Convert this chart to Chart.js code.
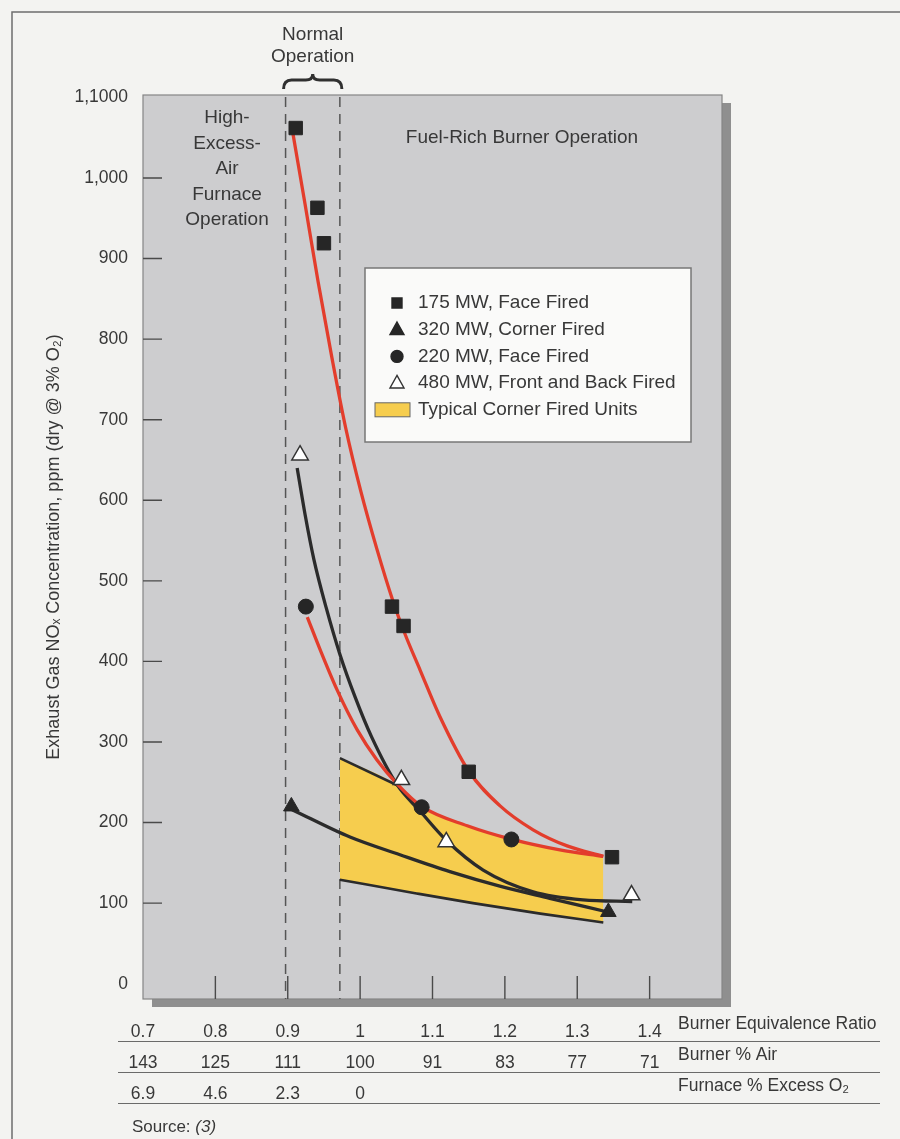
<!DOCTYPE html>
<html>
<head>
<meta charset="utf-8">
<script src="https://cdn.jsdelivr.net/npm/chart.js@4.4.1/dist/chart.umd.min.js"></script>
<style>
  html, body { margin: 0; padding: 0; background: #f3f3f1; }
  #wrap { width: 900px; height: 1139px; }
</style>
</head>
<body>
<div id="wrap"><canvas id="noxChart" width="900" height="1139"></canvas></div>
<script>
// x axis rows (burner equivalence ratio is the real scale)
const ratioTicks = [0.7, 0.8, 0.9, 1.0, 1.1, 1.2, 1.3, 1.4];
const airLabels = ['143', '125', '111', '100', '91', '83', '77', '71'];
const o2Labels = ['6.9', '4.6', '2.3', '0', '', '', '', ''];
const rowTitles = ['Burner Equivalence Ratio', 'Burner % Air', 'Furnace % Excess O\u2082'];

const yTicks = [0, 100, 200, 300, 400, 500, 600, 700, 800, 900, 1000, 1100];
const yTickLabels = ['0', '100', '200', '300', '400', '500', '600', '700', '800', '900', '1,000', '1,1000'];

// normal operation window
const normalLow = 0.897;
const normalHigh = 0.972;

// measured points
const mw175X = [0.911, 0.941, 0.950, 1.044, 1.060, 1.150, 1.348];
const mw175Y = [1062, 963, 919, 468, 444, 263, 157];
const mw320X = [0.905, 1.343];
const mw320Y = [220, 89];
const mw220X = [0.925, 1.085, 1.209];
const mw220Y = [468, 219, 179];
const mw480X = [0.917, 1.057, 1.119, 1.375];
const mw480Y = [656, 253, 176, 110];

// trend curves
const fit175X = [0.907, 0.924, 0.942, 0.961, 0.980, 1.001, 1.023, 1.045, 1.062, 1.083, 1.110, 1.150, 1.193, 1.239, 1.286, 1.336];
const fit175Y = [1056, 967, 871, 777, 690, 611, 540, 476, 434, 389, 332, 264, 221, 191, 171, 158];
const fit220X = [0.927, 0.945, 0.968, 0.996, 1.023, 1.051, 1.085, 1.148, 1.210, 1.276, 1.336];
const fit220Y = [455, 414, 365, 315, 278, 248, 220, 196, 179, 166, 158];
const fit480X = [0.913, 0.924, 0.936, 0.953, 0.972, 0.993, 1.016, 1.051, 1.083, 1.119, 1.170, 1.239, 1.308, 1.376];
const fit480Y = [640, 582, 527, 467, 409, 356, 306, 247, 214, 178, 141, 114, 104, 102];
const fit320X = [0.906, 0.986, 1.055, 1.124, 1.193, 1.262, 1.342];
const fit320Y = [216, 182, 160, 139, 121, 106, 89];

// typical corner fired band
const bandTopX = [0.972, 1.052, 1.085, 1.148, 1.210, 1.276, 1.336];
const bandTopY = [280, 246, 220, 196, 179, 166, 158];
const bandLowX = [0.972, 1.078, 1.156, 1.249, 1.336];
const bandLowY = [129, 112, 100, 87, 76];
const bandEdgeX = [0.972, 1.052];
const bandEdgeY = [280, 246];

const FONT = "'Liberation Sans', Arial, sans-serif";
const INK = '#383838';
const RED = '#e33d2c';
const DARK = '#2b2b2b';
const YELLOW = '#f6cd4e';

const pts = (xs, ys) => xs.map((x, i) => ({ x: x, y: ys[i] }));

function curve(data, color) {
    return {
        data: data,
        borderColor: color,
        borderWidth: 3.3,
        pointRadius: 0,
        cubicInterpolationMode: 'monotone',
        fill: false
    };
}

// background, frame and plot panel
const panelPlugin = {
    id: 'panel',
    beforeDraw(chart) {
        const ctx = chart.ctx;
        const a = chart.chartArea;
        ctx.save();
        ctx.fillStyle = '#f3f3f1';
        ctx.fillRect(0, 0, chart.width, chart.height);
        ctx.strokeStyle = '#6e6e6e';
        ctx.lineWidth = 1.5;
        ctx.strokeRect(12, 12, chart.width, chart.height);
        ctx.fillStyle = '#8f8f8f';
        ctx.fillRect(a.left + 9, a.top + 8, a.right - a.left, a.bottom - a.top);
        ctx.fillStyle = '#cdcdcf';
        ctx.fillRect(a.left, a.top, a.right - a.left, a.bottom - a.top);
        ctx.strokeStyle = '#858585';
        ctx.lineWidth = 1.2;
        ctx.strokeRect(a.left, a.top, a.right - a.left, a.bottom - a.top);
        ctx.restore();
    },
    beforeDatasetsDraw(chart) {
        const ctx = chart.ctx;
        const a = chart.chartArea;
        const xs = chart.scales.x;
        const ys = chart.scales.y;
        ctx.save();
        // inner tick marks
        ctx.strokeStyle = '#4a4a4a';
        ctx.lineWidth = 1.4;
        ctx.beginPath();
        ratioTicks.slice(1).forEach(v => {
            const px = xs.getPixelForValue(v);
            ctx.moveTo(px, a.bottom);
            ctx.lineTo(px, a.bottom - 23);
        });
        yTicks.slice(1, -1).forEach(v => {
            const py = ys.getPixelForValue(v);
            ctx.moveTo(a.left, py);
            ctx.lineTo(a.left + 19, py);
        });
        ctx.stroke();
        // dashed lines for normal operation
        ctx.setLineDash([10, 7]);
        ctx.strokeStyle = '#555';
        ctx.lineWidth = 1.5;
        [normalLow, normalHigh].forEach(v => {
            const px = xs.getPixelForValue(v);
            ctx.beginPath();
            ctx.moveTo(px, a.top + 2);
            ctx.lineTo(px, a.bottom);
            ctx.stroke();
        });
        ctx.restore();
    }
};

function drawMarker(ctx, style, x, y, r, fill, stroke) {
    ctx.beginPath();
    if (style === 'rect') {
        ctx.rect(x - r, y - r, 2 * r, 2 * r);
    } else if (style === 'triangle') {
        ctx.moveTo(x, y - r * 1.1);
        ctx.lineTo(x + r, y + r * 0.7);
        ctx.lineTo(x - r, y + r * 0.7);
        ctx.closePath();
    } else {
        ctx.arc(x, y, r, 0, Math.PI * 2);
    }
    ctx.fillStyle = fill;
    ctx.fill();
    ctx.strokeStyle = stroke;
    ctx.lineWidth = 1.4;
    ctx.stroke();
}

// legend, labels and the table under the axis
const notesPlugin = {
    id: 'notes',
    afterDraw(chart) {
        const ctx = chart.ctx;
        const a = chart.chartArea;
        const xs = chart.scales.x;
        const ds = chart.data.datasets;
        ctx.save();
        ctx.fillStyle = INK;
        ctx.textBaseline = 'middle';

        // top annotations
        ctx.font = '19px ' + FONT;
        ctx.textAlign = 'center';
        const pLow = xs.getPixelForValue(normalLow);
        const pHigh = xs.getPixelForValue(normalHigh);
        const mid = (pLow + pHigh) / 2;
        ctx.fillText('Normal', mid, 35);
        ctx.fillText('Operation', mid, 57);
        ctx.strokeStyle = '#303030';
        ctx.lineWidth = 3;
        ctx.beginPath();
        const by = 74, bx1 = pLow - 2, bx2 = pHigh + 2;
        ctx.moveTo(bx1, by + 15);
        ctx.quadraticCurveTo(bx1, by + 6, bx1 + 8, by + 6);
        ctx.lineTo(mid - 7, by + 6);
        ctx.quadraticCurveTo(mid, by + 6, mid, by);
        ctx.quadraticCurveTo(mid, by + 6, mid + 7, by + 6);
        ctx.lineTo(bx2 - 8, by + 6);
        ctx.quadraticCurveTo(bx2, by + 6, bx2, by + 15);
        ctx.stroke();

        ['High-', 'Excess-', 'Air', 'Furnace', 'Operation'].forEach((t, i) => {
            ctx.fillText(t, 227, 118 + i * 25.5);
        });
        ctx.fillText('Fuel-Rich Burner Operation', 522, 138);

        // legend box
        ctx.fillStyle = '#fafaf9';
        ctx.fillRect(365, 268, 326, 174);
        ctx.strokeStyle = '#777';
        ctx.lineWidth = 1.5;
        ctx.strokeRect(365, 268, 326, 174);
        const items = [0, 1, 2, 3, 9];
        items.forEach((di, k) => {
            const d = ds[di];
            const y = 303 + k * 26.7;
            if (d.pointStyle) {
                const r = d.pointStyle === 'rect' ? 5 : (d.pointStyle === 'triangle' ? 7 : 6);
                drawMarker(ctx, d.pointStyle, 397, y, r, d.backgroundColor, d.borderColor);
            } else {
                ctx.fillStyle = YELLOW;
                ctx.fillRect(375, y - 7, 35, 14);
                ctx.strokeStyle = '#666';
                ctx.lineWidth = 1;
                ctx.strokeRect(375, y - 7, 35, 14);
            }
            ctx.fillStyle = INK;
            ctx.textAlign = 'left';
            ctx.font = '19px ' + FONT;
            ctx.fillText(d.label, 418, y);
        });

        // table row titles and rules
        ctx.font = '17.5px ' + FONT;
        ctx.textAlign = 'left';
        ctx.fillStyle = INK;
        const row0 = a.bottom + 10 + 15.5;
        rowTitles.forEach((t, i) => ctx.fillText(t, 678, row0 + i * 31));
        ctx.strokeStyle = '#6a6a6a';
        ctx.lineWidth = 1.2;
        ctx.beginPath();
        [0, 1, 2].forEach(i => {
            const y = Math.round(row0 + i * 31 + 16) + 0.5;
            ctx.moveTo(118, y);
            ctx.lineTo(880, y);
        });
        ctx.stroke();

        ctx.font = '17px ' + FONT;
        ctx.fillText('Source: ', 132, 1127);
        const w = ctx.measureText('Source: ').width;
        ctx.font = 'italic 17px ' + FONT;
        ctx.fillText('(3)', 132 + w, 1127);
        ctx.restore();
    }
};

Chart.defaults.font.family = FONT;
Chart.defaults.color = INK;

new Chart(document.getElementById('noxChart'), {
    type: 'line',
    data: {
        datasets: [
            {
                label: '175 MW, Face Fired',
                data: pts(mw175X, mw175Y),
                showLine: false,
                pointStyle: 'rect',
                pointRadius: 9.5,
                backgroundColor: '#262626',
                borderColor: '#262626',
                borderWidth: 1
            },
            {
                label: '320 MW, Corner Fired',
                data: pts(mw320X, mw320Y),
                showLine: false,
                pointStyle: 'triangle',
                pointRadius: 9,
                backgroundColor: '#262626',
                borderColor: '#262626',
                borderWidth: 1
            },
            {
                label: '220 MW, Face Fired',
                data: pts(mw220X, mw220Y),
                showLine: false,
                pointStyle: 'circle',
                pointRadius: 7.5,
                backgroundColor: '#262626',
                borderColor: '#262626',
                borderWidth: 1
            },
            {
                label: '480 MW, Front and Back Fired',
                data: pts(mw480X, mw480Y),
                showLine: false,
                pointStyle: 'triangle',
                pointRadius: 9.5,
                backgroundColor: '#ffffff',
                borderColor: '#333333',
                borderWidth: 1.5
            },
            curve(pts(fit175X, fit175Y), RED),
            curve(pts(fit220X, fit220Y), RED),
            curve(pts(fit480X, fit480Y), DARK),
            curve(pts(fit320X, fit320Y), DARK),
            {
                data: pts(bandEdgeX, bandEdgeY),
                borderColor: DARK,
                borderWidth: 2.6,
                pointRadius: 0,
                fill: false
            },
            {
                label: 'Typical Corner Fired Units',
                data: pts(bandLowX, bandLowY),
                borderColor: DARK,
                borderWidth: 2.6,
                pointRadius: 0,
                cubicInterpolationMode: 'monotone',
                backgroundColor: YELLOW,
                fill: '+1'
            },
            {
                data: pts(bandTopX, bandTopY),
                borderWidth: 0,
                borderColor: 'rgba(0,0,0,0)',
                pointRadius: 0,
                cubicInterpolationMode: 'monotone',
                fill: false
            }
        ]
    },
    options: {
        responsive: false,
        animation: false,
        layout: { padding: { left: 0, top: 95, right: 178, bottom: 0 } },
        plugins: {
            legend: { display: false },
            tooltip: { enabled: false }
        },
        scales: {
            x: {
                type: 'linear',
                min: 0.7,
                max: 1.5,
                afterBuildTicks: s => { s.ticks = ratioTicks.map(v => ({ value: v })); },
                afterFit: s => { s.height = 140; },
                grid: { display: false },
                border: { display: false },
                ticks: {
                    padding: 10,
                    maxRotation: 0,
                    autoSkip: false,
                    color: INK,
                    font: { size: 17.5, lineHeight: 31 / 17.5 },
                    callback: (v, i) => [String(ratioTicks[i]), airLabels[i], o2Labels[i]]
                }
            },
            y: {
                min: -19,
                max: 1103,
                afterBuildTicks: s => { s.ticks = yTicks.map(v => ({ value: v })); },
                afterFit: s => { s.width = 143; },
                grid: { display: false, drawTicks: false },
                border: { display: false },
                ticks: {
                    padding: 15,
                    color: INK,
                    font: { size: 17.5 },
                    callback: (v, i) => yTickLabels[i]
                },
                title: {
                    display: true,
                    text: 'Exhaust Gas NO\u2093 Concentration, ppm (dry @ 3% O\u2082)',
                    color: INK,
                    font: { size: 18 },
                    padding: { top: 43, bottom: 0 }
                }
            }
        }
    },
    plugins: [panelPlugin, notesPlugin]
});
</script>
</body>
</html>
